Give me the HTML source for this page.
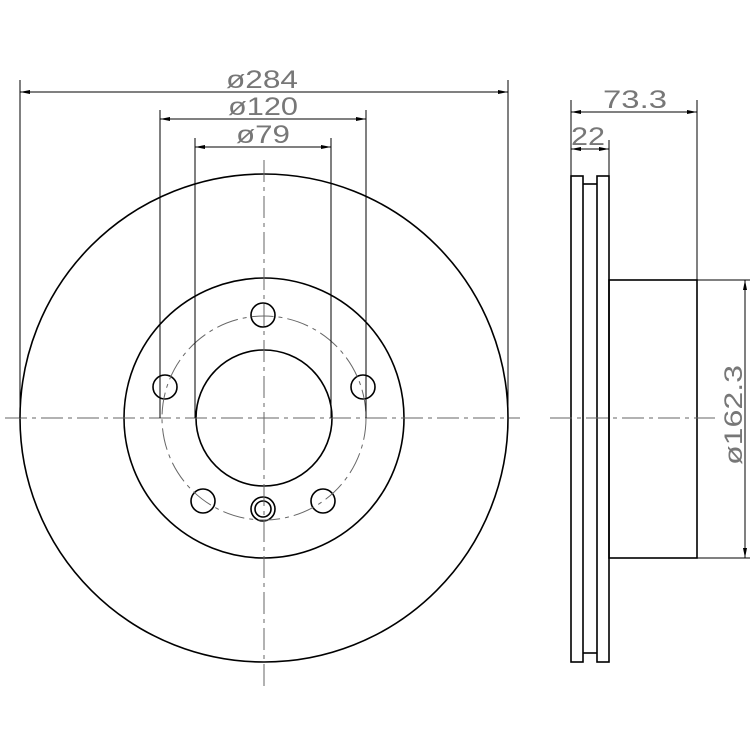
<!DOCTYPE html>
<html><head><meta charset="utf-8"><style>html,body{margin:0;padding:0;background:#fff}svg{display:block}</style></head>
<body>
<svg width="750" height="750" viewBox="0 0 750 750" xmlns="http://www.w3.org/2000/svg">
<defs>
<marker id="a" viewBox="0 0 10 4" refX="10" refY="2" markerWidth="10" markerHeight="4" orient="auto-start-reverse" markerUnits="userSpaceOnUse"><path d="M0,0 L10,2 L0,4z" fill="#000"/></marker>
</defs>
<g fill="none" stroke="#000" stroke-width="1.6">
<circle cx="264" cy="418" r="244"/>
<circle cx="264" cy="418" r="140"/>
<circle cx="264" cy="418" r="68"/>
<circle cx="263" cy="315" r="12"/>
<circle cx="165" cy="387" r="12"/>
<circle cx="363" cy="387" r="12"/>
<circle cx="203" cy="501" r="12"/>
<circle cx="323" cy="501" r="12"/>
<circle cx="263" cy="509" r="12"/>
<circle cx="263" cy="509" r="8"/>
<rect x="571" y="176" width="12" height="486"/>
<rect x="597" y="176" width="12" height="486"/>
<line x1="583" y1="184" x2="597" y2="184"/>
<line x1="583" y1="653" x2="597" y2="653"/>
<rect x="609" y="280" width="88" height="278"/>
</g>
<g fill="none" stroke="#666" stroke-width="1" stroke-dasharray="22,5,4,5">
<circle cx="264" cy="418" r="102"/>
<line x1="5" y1="418" x2="520" y2="418"/>
<line x1="264" y1="160" x2="264" y2="690"/>
<line x1="550" y1="418" x2="715" y2="418"/>
</g>
<g stroke="#000" stroke-width="1">
<line x1="20" y1="80" x2="20" y2="418"/>
<line x1="508" y1="80" x2="508" y2="418"/>
<line x1="160" y1="110" x2="160" y2="418"/>
<line x1="366" y1="110" x2="366" y2="418"/>
<line x1="195" y1="138" x2="195" y2="418"/>
<line x1="331" y1="138" x2="331" y2="418"/>
<line x1="20" y1="92" x2="508" y2="92" marker-start="url(#a)" marker-end="url(#a)"/>
<line x1="160" y1="119" x2="366" y2="119" marker-start="url(#a)" marker-end="url(#a)"/>
<line x1="195" y1="147" x2="331" y2="147" marker-start="url(#a)" marker-end="url(#a)"/>
<line x1="571" y1="100" x2="571" y2="176"/>
<line x1="697" y1="100" x2="697" y2="280"/>
<line x1="609" y1="140" x2="609" y2="176"/>
<line x1="571" y1="112" x2="697" y2="112" marker-start="url(#a)" marker-end="url(#a)"/>
<line x1="571" y1="149" x2="609" y2="149" marker-start="url(#a)" marker-end="url(#a)"/>
<line x1="697" y1="280" x2="750" y2="280"/>
<line x1="697" y1="558" x2="750" y2="558"/>
<line x1="745" y1="280" x2="745" y2="558" marker-start="url(#a)" marker-end="url(#a)"/>
</g>
<g font-family="Liberation Sans, sans-serif" font-size="25" fill="#777" text-anchor="middle">
<text x="262" y="88" textLength="72" lengthAdjust="spacingAndGlyphs">ø284</text>
<text x="263" y="115" textLength="70" lengthAdjust="spacingAndGlyphs">ø120</text>
<text x="263" y="143" textLength="54" lengthAdjust="spacingAndGlyphs">ø79</text>
<text x="635" y="108" textLength="64" lengthAdjust="spacingAndGlyphs">73.3</text>
<text x="588" y="145" textLength="34" lengthAdjust="spacingAndGlyphs">22</text>
<text x="0" y="0" transform="translate(742,415) rotate(-90)" textLength="100" lengthAdjust="spacingAndGlyphs">ø162.3</text>
</g>
</svg>
</body></html>
